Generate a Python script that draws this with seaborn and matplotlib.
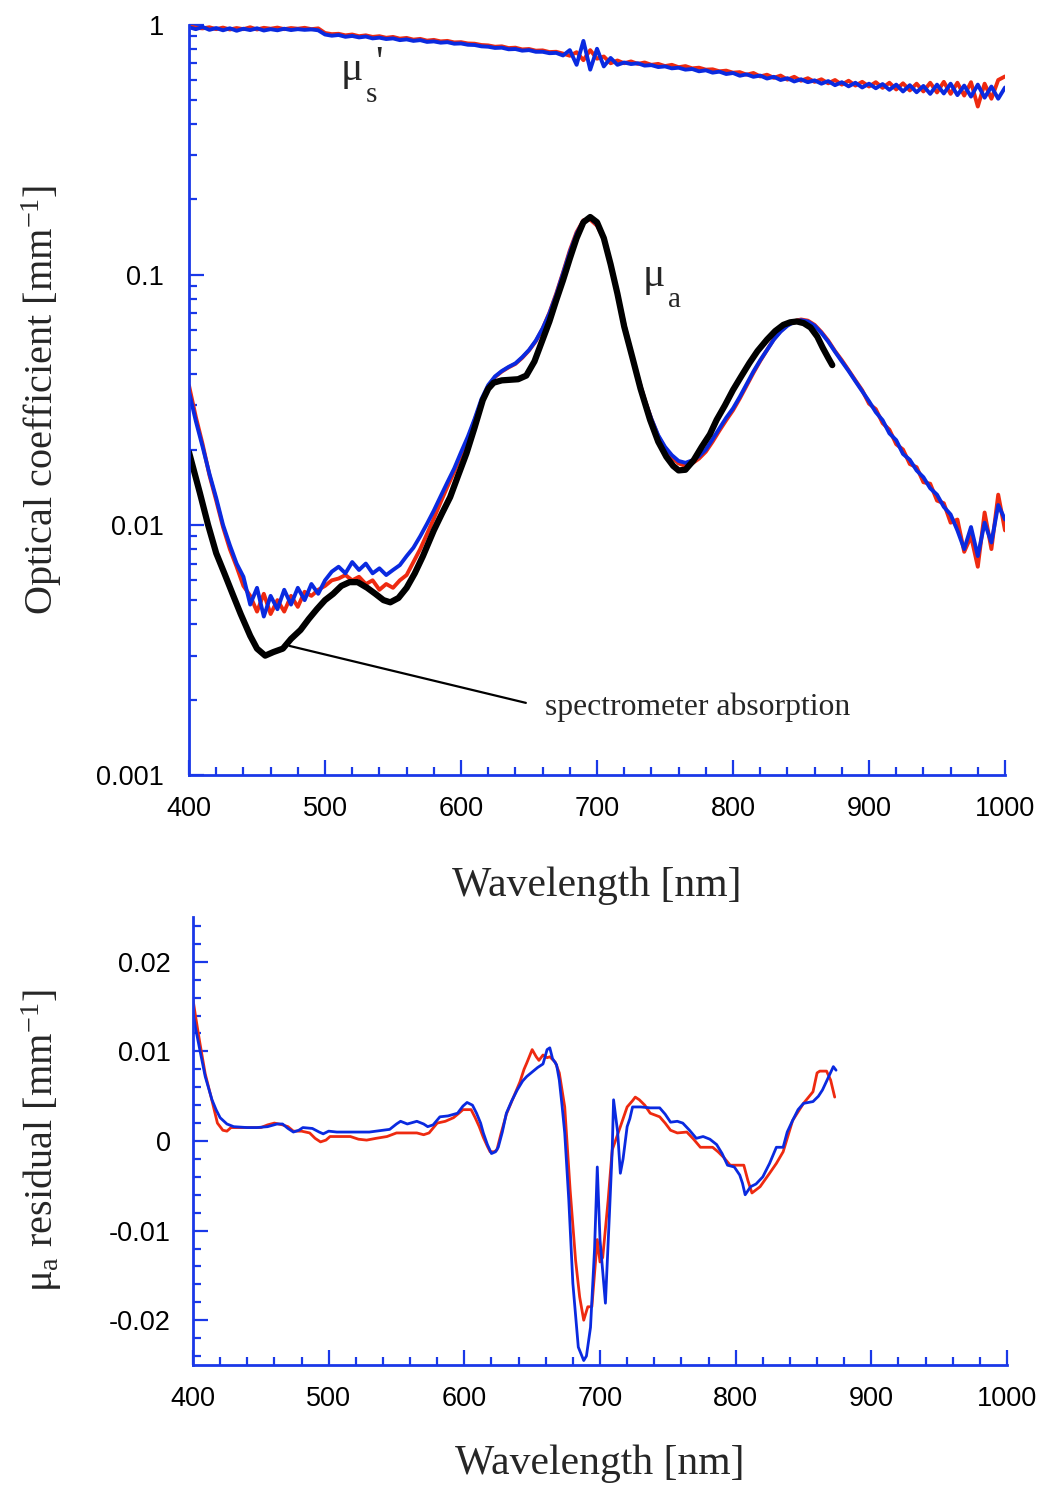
import numpy as np
import pandas as pd
import matplotlib
matplotlib.use("Agg")
import matplotlib.pyplot as plt
import seaborn as sns
from matplotlib.ticker import FixedLocator, FixedFormatter, NullFormatter

# ---------------- data ----------------
wl_grid = list(range(400, 1001, 5))

mus_blue = [0.975, 0.958, 0.978, 0.952, 0.968, 0.948, 0.966, 0.944, 0.962, 0.950,
            0.966, 0.946, 0.958, 0.948, 0.962, 0.950, 0.958, 0.952, 0.956, 0.948,
            0.912, 0.902, 0.908, 0.893, 0.900, 0.888, 0.895, 0.880, 0.886, 0.875,
            0.880, 0.866, 0.872, 0.860, 0.866, 0.852, 0.856, 0.846, 0.850, 0.838,
            0.840, 0.830, 0.828, 0.818, 0.815, 0.806, 0.808, 0.796, 0.798, 0.786,
            0.790, 0.778, 0.778, 0.768, 0.770, 0.752, 0.790, 0.690, 0.860, 0.660,
            0.800, 0.680, 0.735, 0.690, 0.705, 0.695, 0.700, 0.685, 0.688, 0.676,
            0.680, 0.668, 0.672, 0.660, 0.664, 0.650, 0.656, 0.642, 0.648, 0.634,
            0.640, 0.624, 0.632, 0.618, 0.625, 0.608, 0.618, 0.600, 0.610, 0.592,
            0.604, 0.588, 0.598, 0.580, 0.594, 0.572, 0.588, 0.566, 0.585, 0.560,
            0.580, 0.556, 0.578, 0.548, 0.575, 0.540, 0.572, 0.536, 0.568, 0.528,
            0.575, 0.530, 0.580, 0.522, 0.570, 0.515, 0.575, 0.510, 0.565, 0.505,
            0.560]

mus_red = [0.985, 0.970, 0.965, 0.975, 0.958, 0.972, 0.955, 0.968, 0.958, 0.975,
           0.955, 0.970, 0.962, 0.972, 0.958, 0.968, 0.962, 0.970, 0.958, 0.965,
           0.925, 0.915, 0.918, 0.905, 0.912, 0.898, 0.905, 0.892, 0.898, 0.885,
           0.892, 0.878, 0.884, 0.870, 0.876, 0.862, 0.868, 0.856, 0.860, 0.848,
           0.850, 0.840, 0.838, 0.828, 0.825, 0.815, 0.818, 0.805, 0.808, 0.795,
           0.798, 0.786, 0.788, 0.776, 0.778, 0.765, 0.750, 0.775, 0.720, 0.790,
           0.730, 0.745, 0.700, 0.718, 0.700, 0.712, 0.696, 0.705, 0.690, 0.696,
           0.682, 0.690, 0.675, 0.682, 0.668, 0.672, 0.660, 0.662, 0.650, 0.654,
           0.642, 0.645, 0.630, 0.640, 0.620, 0.630, 0.612, 0.625, 0.602, 0.618,
           0.596, 0.610, 0.590, 0.604, 0.582, 0.600, 0.575, 0.596, 0.570, 0.590,
           0.565, 0.588, 0.558, 0.585, 0.550, 0.582, 0.545, 0.580, 0.540, 0.585,
           0.535, 0.590, 0.528, 0.585, 0.520, 0.588, 0.470, 0.580, 0.505, 0.600,
           0.620]

mua_blue = [0.0340, 0.0260, 0.0205, 0.0160, 0.0128, 0.0100, 0.0083, 0.0070, 0.0062, 0.0048,
            0.0056, 0.0043, 0.0052, 0.0046, 0.0055, 0.0048, 0.0056, 0.0050, 0.0058, 0.0053,
            0.0060, 0.0065, 0.0068, 0.0064, 0.0071, 0.0066, 0.0070, 0.0064, 0.0067, 0.0063,
            0.0066, 0.0069, 0.0075, 0.0081, 0.0090, 0.0101, 0.0114, 0.0130, 0.0148, 0.0168,
            0.0195, 0.0225, 0.0265, 0.0318, 0.0362, 0.0392, 0.0412, 0.0428, 0.0442, 0.0468,
            0.0500, 0.0545, 0.0610, 0.0700, 0.0830, 0.1010, 0.1230, 0.1460, 0.1640, 0.1690,
            0.1590, 0.1400, 0.1100, 0.0830, 0.0630, 0.0490, 0.0390, 0.0315, 0.0265, 0.0228,
            0.0205, 0.0190, 0.0180, 0.0177, 0.0181, 0.0188, 0.0200, 0.0220, 0.0243, 0.0268,
            0.0292, 0.0325, 0.0365, 0.0410, 0.0455, 0.0500, 0.0550, 0.0592, 0.0625, 0.0648,
            0.0658, 0.0650, 0.0625, 0.0585, 0.0540, 0.0492, 0.0450, 0.0412, 0.0375, 0.0342,
            0.0312, 0.0282, 0.0262, 0.0232, 0.0218, 0.0192, 0.0182, 0.0165, 0.0155, 0.0140,
            0.0132, 0.0118, 0.0110, 0.0095, 0.0080, 0.0098, 0.0075, 0.0102, 0.0085, 0.0120,
            0.0105]

mua_red = [0.0360, 0.0270, 0.0210, 0.0158, 0.0125, 0.0098, 0.0080, 0.0068, 0.0057, 0.0052,
           0.0045, 0.0053, 0.0044, 0.0050, 0.0045, 0.0052, 0.0047, 0.0054, 0.0052, 0.0055,
           0.0057, 0.0060, 0.0061, 0.0063, 0.0060, 0.0062, 0.0058, 0.0060, 0.0055, 0.0058,
           0.0056, 0.0060, 0.0063, 0.0071, 0.0080, 0.0092, 0.0106, 0.0123, 0.0142, 0.0163,
           0.0190, 0.0220, 0.0262, 0.0312, 0.0358, 0.0390, 0.0410, 0.0426, 0.0440, 0.0465,
           0.0498, 0.0542, 0.0608, 0.0705, 0.0840, 0.1020, 0.1250, 0.1480, 0.1650, 0.1660,
           0.1570, 0.1390, 0.1110, 0.0850, 0.0640, 0.0495, 0.0392, 0.0318, 0.0265, 0.0226,
           0.0202, 0.0186, 0.0176, 0.0172, 0.0176, 0.0184, 0.0196, 0.0215, 0.0238, 0.0262,
           0.0287, 0.0320, 0.0360, 0.0405, 0.0452, 0.0500, 0.0552, 0.0595, 0.0630, 0.0652,
           0.0662, 0.0655, 0.0630, 0.0590, 0.0545, 0.0495, 0.0455, 0.0415, 0.0378, 0.0345,
           0.0305, 0.0290, 0.0255, 0.0240, 0.0210, 0.0200, 0.0175, 0.0170, 0.0148, 0.0146,
           0.0125, 0.0122, 0.0102, 0.0105, 0.0078, 0.0090, 0.0068, 0.0112, 0.0080, 0.0132,
           0.0095]

spec_wl = [400, 408, 414, 420, 426, 432, 438, 445, 450, 456, 462, 469, 475, 482, 488,
           494, 500, 506, 512, 518, 524, 531, 537, 543, 548, 554, 560, 566, 572, 580,
           586, 592, 598, 604, 610, 616, 620, 624, 630, 636, 642, 648, 654, 660, 665,
           670, 675, 680, 685, 690, 695, 700, 705, 710, 715, 720, 726, 732, 739, 745,
           751, 756, 760, 765, 771, 777, 783, 788, 794, 800, 806, 812, 818, 825, 831,
           837, 842, 847, 852, 857, 862, 866, 870, 873]
spec_abs = [0.0195, 0.0134, 0.0100, 0.0077, 0.0064, 0.0053, 0.0044, 0.0036, 0.0032, 0.0030,
            0.0031, 0.0032, 0.0035, 0.0038, 0.0042, 0.0046, 0.0050, 0.0053, 0.0057, 0.0059,
            0.0059, 0.0056, 0.0053, 0.0050, 0.0049, 0.0051, 0.0056, 0.0064, 0.0075, 0.0095,
            0.0111, 0.0129, 0.0158, 0.0193, 0.0245, 0.0315, 0.0350, 0.0370, 0.0378, 0.0380,
            0.0382, 0.0395, 0.0450, 0.0550, 0.0650, 0.0790, 0.0950, 0.1160, 0.1400, 0.1620,
            0.1700, 0.1620, 0.1400, 0.1100, 0.0840, 0.0620, 0.0467, 0.0350, 0.0263, 0.0215,
            0.0187, 0.0172, 0.0165, 0.0166, 0.0181, 0.0205, 0.0230, 0.0263, 0.0300, 0.0346,
            0.0392, 0.0443, 0.0495, 0.0550, 0.0595, 0.0630, 0.0645, 0.0650, 0.0640, 0.0615,
            0.0565, 0.0510, 0.0465, 0.0435]

res_blue_wl = [400, 402, 405, 409, 414, 417, 420, 425, 430, 440, 447, 455, 462, 466, 470,
               474, 478, 481, 488, 493, 496, 500, 506, 515, 530, 540, 545, 550, 553, 558,
               565, 570, 573, 577, 582, 588, 595, 599, 602, 606, 609, 612, 614, 617, 620,
               623, 625, 628, 631, 635, 639, 643, 646, 650, 654, 658, 661, 663, 665, 668,
               670, 672, 674, 677, 680, 684, 688, 690, 693, 696, 698, 700, 704, 707, 709,
               710, 713, 715, 717, 720, 722, 724, 730, 737, 744, 748, 752, 757, 761, 766,
               771, 776, 781, 786, 790, 794, 799, 803, 805, 807, 811, 815, 820, 825, 830,
               835, 838, 842, 846, 850, 857, 861, 864, 868, 872, 874]
res_blue = [0.0143, 0.0125, 0.0102, 0.0072, 0.0046, 0.0035, 0.0026, 0.0019, 0.0016, 0.0015,
            0.0015, 0.0016, 0.0019, 0.0019, 0.0014, 0.0010, 0.0012, 0.0015, 0.0014, 0.0010,
            0.0008, 0.0011, 0.0010, 0.0010, 0.0010, 0.0012, 0.0013, 0.0019, 0.0022, 0.0019,
            0.0022, 0.0019, 0.0016, 0.0018, 0.0027, 0.0028, 0.0031, 0.0039, 0.0043, 0.0040,
            0.0031, 0.0020, 0.0009, -0.0004, -0.0014, -0.0012, -0.0007, 0.0010, 0.0031, 0.0045,
            0.0057, 0.0067, 0.0072, 0.0077, 0.0082, 0.0086, 0.0102, 0.0104, 0.0092, 0.0085,
            0.0068, 0.0040, 0.0009, -0.0066, -0.0159, -0.0230, -0.0245, -0.0240, -0.0208, -0.0120,
            -0.0029, -0.0110, -0.0181, -0.0080, -0.0010, 0.0046, 0.0010, -0.0036, -0.0020, 0.0016,
            0.0025, 0.0038, 0.0038, 0.0037, 0.0037, 0.0030, 0.0021, 0.0022, 0.0020, 0.0012,
            0.0003, 0.0005, 0.0002, -0.0004, -0.0014, -0.0027, -0.0029, -0.0038, -0.0047, -0.0060,
            -0.0051, -0.0048, -0.0040, -0.0025, -0.0007, -0.0007, 0.0010, 0.0023, 0.0035, 0.0042,
            0.0044, 0.0050, 0.0057, 0.0070, 0.0083, 0.0079]

res_red_wl = [400, 402, 405, 409, 414, 418, 422, 425, 428, 440, 450, 455, 460, 466, 470,
              474, 480, 486, 490, 494, 498, 501, 508, 516, 522, 528, 535, 543, 550, 558,
              565, 570, 574, 580, 586, 592, 596, 599, 605, 608, 611, 614, 617, 619, 622,
              624, 627, 631, 636, 641, 644, 646, 650, 653, 655, 658, 661, 663, 667, 670,
              674, 678, 682, 685, 688, 691, 694, 698, 700, 702, 706, 709, 715, 720, 724,
              726, 729, 733, 737, 744, 748, 752, 757, 764, 769, 774, 783, 787, 791, 796,
              806, 809, 812, 818, 825, 830, 835, 842, 850, 857, 860, 862, 867, 870, 873]
res_red = [0.0158, 0.0138, 0.0110, 0.0075, 0.0045, 0.0020, 0.0012, 0.0011, 0.0015, 0.0015,
           0.0015, 0.0018, 0.0020, 0.0018, 0.0016, 0.0011, 0.0011, 0.0009, 0.0003, -0.0001,
           0.0001, 0.0005, 0.0005, 0.0005, 0.0002, 0.0001, 0.0003, 0.0005, 0.0009, 0.0009,
           0.0009, 0.0007, 0.0009, 0.0020, 0.0022, 0.0026, 0.0031, 0.0035, 0.0035, 0.0026,
           0.0016, 0.0004, -0.0006, -0.0012, -0.0012, -0.0010, 0.0008, 0.0030, 0.0048, 0.0066,
           0.0080, 0.0087, 0.0102, 0.0094, 0.0090, 0.0096, 0.0093, 0.0094, 0.0088, 0.0076,
           0.0038, -0.0055, -0.0133, -0.0174, -0.0200, -0.0185, -0.0185, -0.0110, -0.0135, -0.0130,
           -0.0066, -0.0010, 0.0016, 0.0038, 0.0045, 0.0049, 0.0046, 0.0040, 0.0031, 0.0027,
           0.0020, 0.0012, 0.0009, 0.0010, 0.0002, -0.0007, -0.0007, -0.0012, -0.0018, -0.0027,
           -0.0027, -0.0044, -0.0058, -0.0051, -0.0036, -0.0025, -0.0012, 0.0023, 0.0042, 0.0055,
           0.0076, 0.0078, 0.0078, 0.0068, 0.0049]

x_ticks = [400, 500, 600, 700, 800, 900, 1000]
x_ticklabels = ["400", "500", "600", "700", "800", "900", "1000"]
top_yticks = [0.001, 0.01, 0.1, 1]
top_yticklabels = ["0.001", "0.01", "0.1", "1"]
bot_yticks = [-0.02, -0.01, 0.0, 0.01, 0.02]
bot_yticklabels = ["-0.02", "-0.01", "0", "0.01", "0.02"]

# ---------------- style ----------------
sns.set_style("ticks")
plt.rcParams["font.family"] = ["Liberation Sans", "DejaVu Sans"]
plt.rcParams["mathtext.fontset"] = "custom"
plt.rcParams["mathtext.rm"] = "Liberation Serif"
plt.rcParams["mathtext.it"] = "Liberation Serif:italic"

RED = "#ee2a10"
BLUE = "#0a2ae0"
AXC = "#1a38e8"
SERIF = "Liberation Serif"

fig = plt.figure(figsize=(10.42, 14.87), dpi=100)
ax1 = fig.add_axes([0.1814, 0.47882, 0.7831, 0.50470])
ax2 = fig.add_axes([0.18522, 0.08204, 0.78119, 0.30128])

# ---------------- top panel ----------------
df_top = pd.DataFrame({"wl": wl_grid, "mus_red": mus_red, "mus_blue": mus_blue,
                       "mua_red": mua_red, "mua_blue": mua_blue})
df_spec = pd.DataFrame({"wl": spec_wl, "abs": spec_abs})

for col, c in [("mus_red", RED), ("mua_red", RED), ("mus_blue", BLUE), ("mua_blue", BLUE)]:
    sns.lineplot(data=df_top, x="wl", y=col, ax=ax1, color=c, lw=2.8,
                 sort=False, estimator=None, legend=False)
sns.lineplot(data=df_spec, x="wl", y="abs", ax=ax1, color="black", lw=4.5,
             sort=False, estimator=None, legend=False)

ax1.set_yscale("log")
ax1.set_xlim(400, 1000)
ax1.set_ylim(0.001, 1)

# ---------------- bottom panel ----------------
df_rb = pd.DataFrame({"wl": res_blue_wl, "res": res_blue})
df_rr = pd.DataFrame({"wl": res_red_wl, "res": res_red})
sns.lineplot(data=df_rr, x="wl", y="res", ax=ax2, color=RED, lw=2.0,
             sort=False, estimator=None, legend=False)
sns.lineplot(data=df_rb, x="wl", y="res", ax=ax2, color=BLUE, lw=2.0,
             sort=False, estimator=None, legend=False)
ax2.set_xlim(400, 1000)
ax2.set_ylim(-0.025, 0.025)

# ---------------- axes styling ----------------
for ax in (ax1, ax2):
    for s in ("top", "right"):
        ax.spines[s].set_visible(False)
    for s in ("left", "bottom"):
        ax.spines[s].set_color(AXC)
        ax.spines[s].set_linewidth(2.0)
    ax.xaxis.set_major_locator(FixedLocator(x_ticks))
    ax.xaxis.set_major_formatter(FixedFormatter(x_ticklabels))
    ax.xaxis.set_minor_locator(FixedLocator(list(range(400, 1001, 20))))
    ax.xaxis.set_minor_formatter(NullFormatter())
    ax.tick_params(which="major", direction="in", length=10.5, width=1.6,
                   color=AXC, labelsize=19.5, labelcolor="black")
    ax.tick_params(which="minor", direction="in", length=5.5, width=1.6, color=AXC)
    ax.grid(False)

ax1.yaxis.set_major_locator(FixedLocator(top_yticks))
ax1.yaxis.set_major_formatter(FixedFormatter(top_yticklabels))
ax1.yaxis.set_minor_locator(matplotlib.ticker.LogLocator(base=10, subs=np.arange(2, 10)))
ax1.yaxis.set_minor_formatter(NullFormatter())
ax1.tick_params(axis="x", which="major", pad=15)
ax1.tick_params(axis="y", which="major", pad=18)

ax2.yaxis.set_major_locator(FixedLocator(bot_yticks))
ax2.yaxis.set_major_formatter(FixedFormatter(bot_yticklabels))
ax2.yaxis.set_minor_locator(FixedLocator([v / 1000 for v in range(-24, 25, 2)]))
ax2.yaxis.set_minor_formatter(NullFormatter())
ax2.tick_params(axis="x", which="major", pad=15)
ax2.tick_params(axis="y", which="major", pad=16)

# labels
ax1.set_xlabel("Wavelength [nm]", fontsize=30, fontfamily=SERIF)
ax1.xaxis.set_label_coords(0.5, -0.122)
ax1.set_ylabel(r"Optical coefficient [mm$^{\mathrm{-1}}$]", fontsize=29, fontfamily=SERIF)
ax1.yaxis.set_label_coords(-0.153, 0.5)

ax2.set_xlabel("Wavelength [nm]", fontsize=30, fontfamily=SERIF)
ax2.xaxis.set_label_coords(0.5, -0.178)
ax2.set_ylabel(r"μ$_{\mathrm{a}}$ residual [mm$^{\mathrm{-1}}$]", fontsize=29, fontfamily=SERIF)
ax2.yaxis.set_label_coords(-0.158, 0.5)

# annotations
ax1.text(519.5, 0.600, "μ", fontsize=30, fontfamily=SERIF, ha="center", va="baseline")
ax1.text(534.5, 0.490, "s", fontsize=21, fontfamily=SERIF, ha="center", va="baseline")
ax1.text(540.0, 0.630, "'", fontsize=30, fontfamily=SERIF, ha="center", va="baseline")
ax1.text(741.5, 0.0905, "μ", fontsize=30, fontfamily=SERIF, ha="center", va="baseline")
ax1.text(757.0, 0.0745, "a", fontsize=21, fontfamily=SERIF, ha="center", va="baseline")

ax1.annotate("spectrometer absorption", xy=(474, 0.00328), xytext=(662, 0.00186),
             fontsize=22.8, fontfamily=SERIF, ha="left", va="center",
             arrowprops=dict(arrowstyle="-", color="black", lw=1.6,
                             relpos=(0.0, 0.5), shrinkA=12, shrinkB=0))

fig.savefig("out.png", dpi=100)
